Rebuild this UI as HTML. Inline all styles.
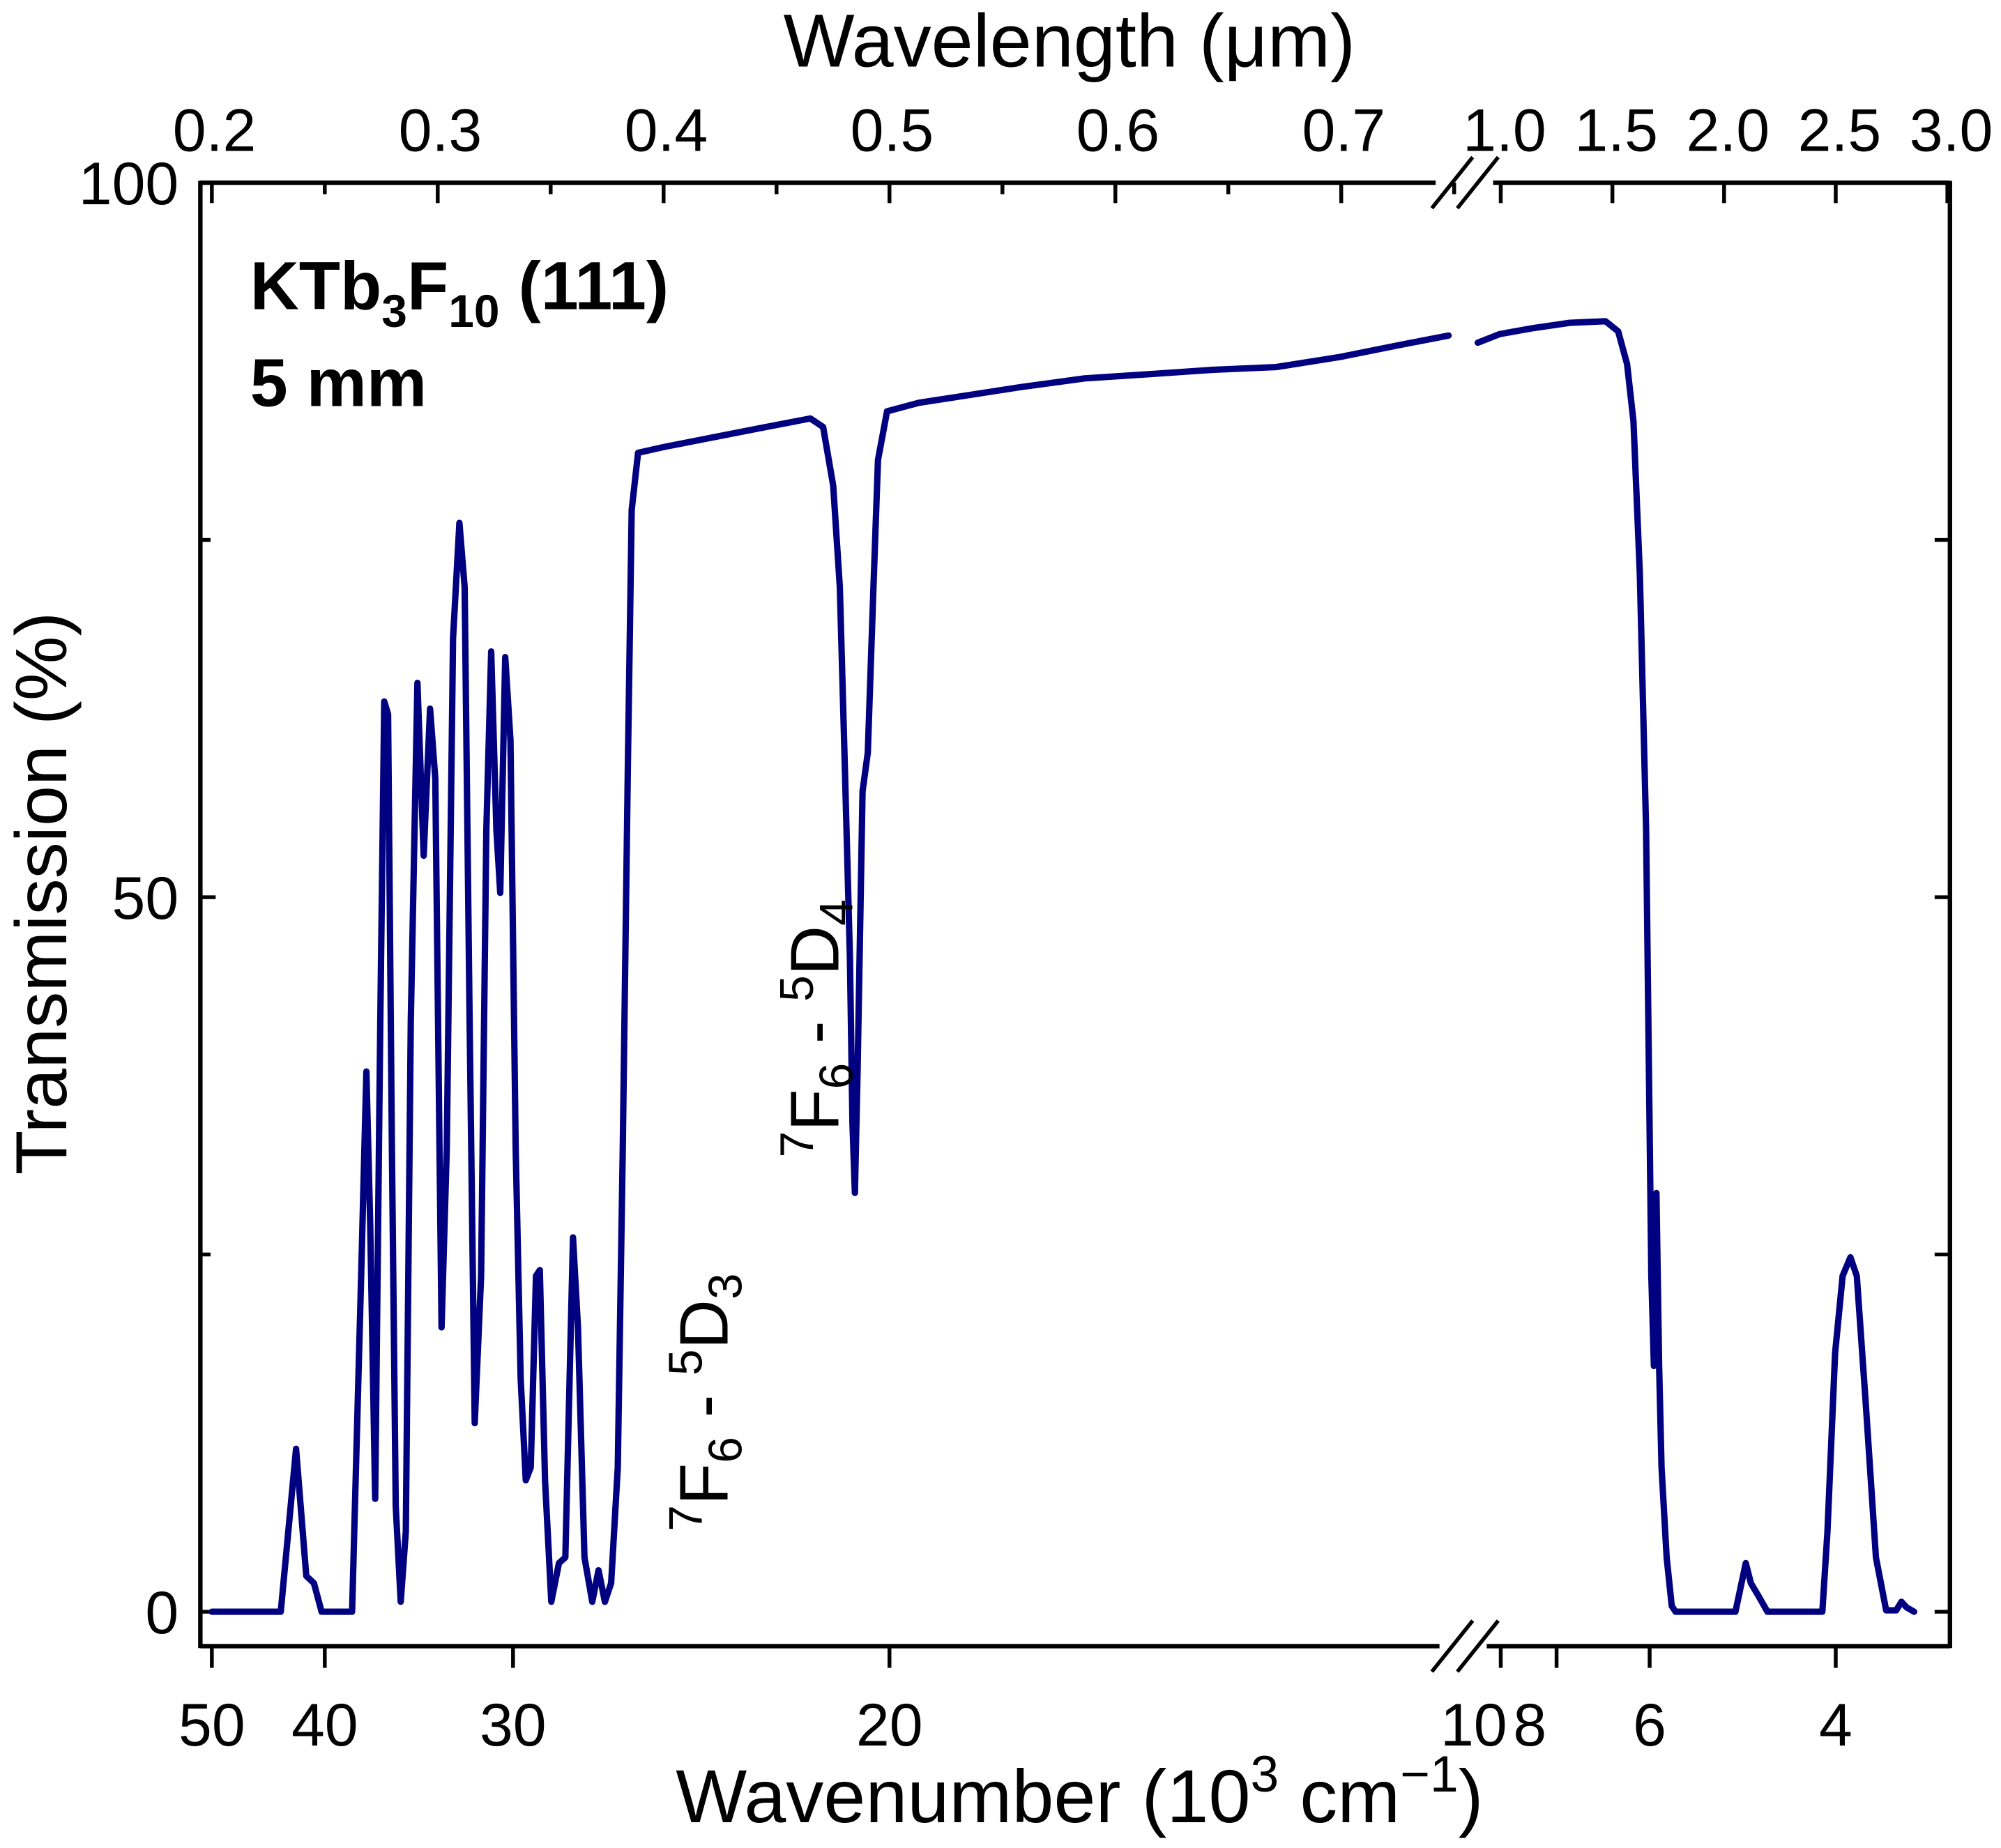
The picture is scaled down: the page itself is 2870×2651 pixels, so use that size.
<!DOCTYPE html>
<html><head><meta charset="utf-8"><style>
html,body{margin:0;padding:0;background:#fff;}
svg{display:block;}
text{font-family:"Liberation Sans",Arial,sans-serif;fill:#000;}
</style></head><body>
<svg id="chart" width="2870" height="2651" viewBox="0 0 1568 1448" xmlns="http://www.w3.org/2000/svg">
<g id="axes"></g>
<g id="series"></g>
<text x="196" y="242" font-size="53" font-weight="bold">KTb<tspan font-size="36" dy="14">3</tspan><tspan dy="-14">F</tspan><tspan font-size="36" dy="14">10</tspan><tspan dy="-14"> (111)</tspan></text>
<text x="196" y="318" font-size="53" font-weight="bold">5 mm</text>
<text transform="translate(570,1200) rotate(-90)" font-size="54"><tspan font-size="37" dy="-20">7</tspan><tspan dy="20">F</tspan><tspan font-size="37" dy="11">6</tspan><tspan dy="-11"> - </tspan><tspan font-size="37" dy="-20">5</tspan><tspan dy="20">D</tspan><tspan font-size="37" dy="11">3</tspan></text>
<text transform="translate(657,907) rotate(-90)" font-size="54"><tspan font-size="37" dy="-20">7</tspan><tspan dy="20">F</tspan><tspan font-size="37" dy="11">6</tspan><tspan dy="-11"> - </tspan><tspan font-size="37" dy="-20">5</tspan><tspan dy="20">D</tspan><tspan font-size="37" dy="11">4</tspan></text>
<text x="838" y="52" font-size="59" text-anchor="middle">Wavelength (μm)</text>
<text x="846" y="1428" font-size="59" text-anchor="middle">Wavenumber (10<tspan font-size="40" dy="-24">3</tspan><tspan dy="24"> cm</tspan><tspan font-size="40" dy="-24">−1</tspan><tspan dy="24">)</tspan></text>
<text transform="translate(52,700) rotate(-90)" font-size="57" text-anchor="middle">Transmission (%)</text>
</svg>
<script>
// Data: wavelength (µm) and transmission (%)
const lamUV = [0.2,0.2305,0.2373,0.2418,0.2452,0.2486,0.2621,0.2661,0.2684,0.2701,0.2723,0.2746,0.2763,0.2780,0.2797,0.2814,0.2836,0.2859,0.2881,0.2910,0.2938,0.2966,0.2989,0.3017,0.3040,0.3068,0.3096,0.3119,0.3141,0.3164,0.3192,0.3215,0.3237,0.3260,0.3277,0.3299,0.3322,0.3345,0.3367,0.3390,0.3412,0.3435,0.3452,0.3475,0.3503,0.3537,0.3565,0.3599,0.3621,0.3650,0.3684,0.3712,0.3740,0.3768,0.3797,0.3819,0.3842,0.3859,0.3887,0.4000,0.4452,0.4650,0.4706,0.4751,0.4780,0.4802,0.4825,0.4836,0.4847,0.4859,0.4881,0.4904,0.4927,0.4949,0.4989,0.5130,0.5582,0.5864,0.6147,0.6429,0.6712,0.6994,0.7277,0.7475];
const tUV = [0,0,11.4,2.5,2.0,0,0,23.5,37.8,27.1,7.9,41.3,63.7,62.8,32.4,7.4,0.7,5.6,41.3,65.0,52.9,63.2,58.3,19.9,32.4,68.1,76.2,71.7,41.3,13.2,23.5,54.7,67.2,54.7,50.3,66.8,61.0,32.4,16.3,9.2,10.1,23.5,23.9,9.2,0.7,3.4,3.8,26.2,19.9,3.8,0.7,2.9,0.7,2.0,10.1,32.4,59.2,77.1,81.1,81.5,82.9,83.5,82.9,78.8,71.7,59.2,45.8,34.2,29.3,37.8,57.4,60.1,70.8,80.6,84.0,84.6,85.7,86.3,86.6,86.9,87.1,87.8,88.7,89.3];
const lamIR = [0.897,0.994,1.137,1.309,1.469,1.526,1.566,1.594,1.623,1.651,1.674,1.686,1.697,1.709,1.72,1.743,1.766,1.783,2.051,2.097,2.12,2.154,2.194,2.44,2.463,2.497,2.531,2.566,2.594,2.634,2.68,2.726,2.771,2.794,2.817,2.851];
const tIR = [88.8,89.4,89.8,90.2,90.3,89.6,87.3,83.3,72.6,54.7,23.5,17.2,29.3,17.2,10.1,3.8,0.4,0,0,3.4,2.0,1.1,0,0,5.6,18.1,23.5,24.8,23.5,14.6,3.8,0.1,0.1,0.7,0.3,0];
const topTicksL = [0.2,0.3,0.4,0.5,0.6,0.7];
const topTicksR = [1.0,1.5,2.0,2.5,3.0];
const wnTicksL = [50,40,30,20];
const wnTicksR = [10,8,6,4];
const yTicks = [0,50,100];

const NS="http://www.w3.org/2000/svg";
const X0=157,X1=1528,YT=143,YB=1290;
function xL(l){return 166+(l-0.2)*1770;}
function xR(l){return 1176+(l-1)*175;}
function yS(t){return 1263-t*11.2;}
const axes=document.getElementById('axes'), series=document.getElementById('series');
function mk(tag,attrs,parent){const e=document.createElementNS(NS,tag);for(const k in attrs)e.setAttribute(k,attrs[k]);parent.appendChild(e);return e;}
function line(x1,y1,x2,y2,w,name){const e=mk('line',{x1:x1,y1:y1,x2:x2,y2:y2,stroke:'#000','stroke-width':w},axes);

return e;}
function txt(x,y,s,anchor,name,fs){const e=mk('text',{x:x,y:y,'font-size':fs||47,'text-anchor':anchor},axes);e.textContent=s;

return e;}
// frame
line(X0,YT,1125,YT,3.5,'top-axis-left');line(1170,YT,X1,YT,3.5,'top-axis-right');
line(X0,YB,1128,YB,3.5,'bottom-axis-left');line(1165,YB,X1,YB,3.5,'bottom-axis-right');
line(X0,YT-1.5,X0,YB+1.5,3.5,'left-axis');line(X1,YT-1.5,X1,YB+1.5,3.5,'right-axis');
// break marks
[[1122,1136],[1142,1156]].forEach(function(p){line(p[0],YT+20,p[1]+18,YT-20,3,'axis-break-top');line(p[0],YB+20,p[1]+18,YB-20,3,'axis-break-bottom');});
// top ticks
topTicksL.forEach(function(l){const x=xL(l);line(x,YT,x,YT+16,3,'top-tick');txt(x+2,118,l.toFixed(1),'middle','top-tick-label');});
[0.25,0.35,0.45,0.55,0.65,0.75].forEach(function(l){const x=xL(l);line(x,YT,x,YT+9,3,'top-minor-tick');});
topTicksR.forEach(function(l){const x=xR(l);line(x,YT,x,YT+16,3,'top-tick');txt(x+3,118,l.toFixed(1),'middle','top-tick-label');});
// bottom ticks (wavenumber)
wnTicksL.forEach(function(w){const x=xL(10/w);line(x,YB,x,YB+17,3,'bottom-tick');txt(x,1368,String(w),'middle','bottom-tick-label');});
wnTicksR.forEach(function(w){const x=xR(10/w);line(x,YB,x,YB+17,3,'bottom-tick');
if(w===10){txt(x+5,1368,String(w),'end','bottom-tick-label');}
else if(w===8){txt(x-34,1368,String(w),'start','bottom-tick-label');}
else{txt(x,1368,String(w),'middle','bottom-tick-label');}});
// y ticks
yTicks.forEach(function(t){const y=yS(t);line(X0,y,X0+12,y,3,'y-tick');line(X1-12,y,X1,y,3,'y-tick-right');txt(140,y+17,String(t),'end','y-tick-label');});
[25,75].forEach(function(t){const y=yS(t);line(X0,y,X0+8,y,3,'y-minor-tick');line(X1-12,y,X1,y,3,'y-minor-tick-right');});
// series
function path(ls,ts,fx,name){let d='';for(let i=0;i<ls.length;i++){d+=(i?'L':'M')+fx(ls[i]).toFixed(1)+','+yS(ts[i]).toFixed(1);}
const p=mk('path',{d:d,fill:'none',stroke:'#000080','stroke-width':5,'stroke-linejoin':'round','stroke-linecap':'round'},series);

}
path(lamUV,tUV,xL,'transmission-curve-uv-vis');
path(lamIR,tIR,xR,'transmission-curve-ir');
</script>
</body></html>
